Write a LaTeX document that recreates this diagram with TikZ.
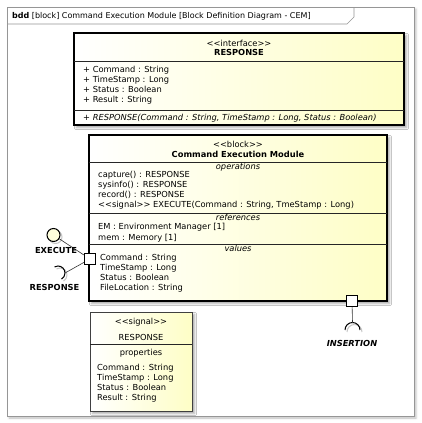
\documentclass[tikz,border=0pt]{standalone}
\usepackage{fontspec}
\setmainfont{DejaVu Sans}
\usetikzlibrary{shadows.blur}
\definecolor{cemyellow}{RGB}{254,254,198}
\definecolor{framegray}{RGB}{150,150,150}
\tikzset{
  umlbox/.style={draw=black, line width=1.6pt, rectangle, inner sep=0pt,
    left color=white, right color=cemyellow,
    blur shadow={shadow xshift=2.5pt, shadow yshift=-2.5pt, shadow blur steps=4, shadow opacity=35}},
  sigbox/.style={draw=black!75, line width=0.8pt, rectangle, inner sep=0pt,
    left color=white, right color=cemyellow,
    blur shadow={shadow xshift=2.5pt, shadow yshift=-2.5pt, shadow blur steps=4, shadow opacity=35}},
  framebox/.style={draw=framegray, line width=0.7pt, rectangle, inner sep=0pt, fill=white,
    blur shadow={shadow xshift=2pt, shadow yshift=-2pt, shadow blur steps=3, shadow opacity=25}},
  txt/.style={font=\fontsize{8.3}{10}\selectfont, inner sep=0pt, anchor=base west},
  ctxt/.style={font=\fontsize{8.3}{10}\selectfont, inner sep=0pt, anchor=base},
  lbl/.style={font=\fontsize{8.3}{10}\selectfont\bfseries, inner sep=0pt, anchor=base},
  sep/.style={draw=black!85, line width=0.8pt},
  port/.style={draw=black, line width=1.2pt, fill=white, minimum size=11pt, inner sep=0pt},
  wire/.style={draw=black!80, line width=0.6pt},
  iface/.style={draw=black, line width=1pt},
  shade/.style={draw=black!22, line width=1pt}
}
\begin{document}
\begin{tikzpicture}[x=1pt,y=-1pt]
\useasboundingbox (0,0) rectangle (421,423);
% frame
\node[framebox, minimum width=407pt, minimum height=409pt] (frame) at (210.5,211.5) {};
\draw[draw=framegray, line width=0.7pt] (7,24) -- (347,24) -- (354,17) -- (354,7);
\node[txt, font=\fontsize{8}{10}\selectfont] (title) at (12,19) {\textbf{bdd} [block] Command Execution Module [Block Definition Diagram - CEM]};

% interface RESPONSE
\node[umlbox, minimum width=330pt, minimum height=92pt] (ifbox) at (239,79) {};
\draw[sep] (74,61) -- (404,61);
\draw[sep] (74,110) -- (404,110);
\node[ctxt] (ifst) at (239,46) {<\kern0pt<interface>\kern0pt>};
\node[ctxt, font=\fontsize{8.3}{10}\selectfont\bfseries] (ifname) at (239,55.5) {RESPONSE};
\node[txt] (ifa1) at (83,72) {+ Command : String};
\node[txt] (ifa2) at (83,82) {+ TimeStamp : Long};
\node[txt] (ifa3) at (83,92) {+ Status : Boolean};
\node[txt] (ifa4) at (83,102) {+ Result : String};
\node[txt, font=\fontsize{8.3}{10}\selectfont\itshape] (ifop) at (83,120.5) {+ RESPONSE(Command : String, TimeStamp : Long, Status : Boolean)};

% block
\node[umlbox, minimum width=298pt, minimum height=166pt] (blk) at (238,218) {};
\draw[sep] (89,162) -- (387,162);
\draw[sep] (89,213) -- (387,213);
\draw[sep] (89,244) -- (387,244);
\node[ctxt] (blkst) at (238,147) {<\kern0pt<block>\kern0pt>};
\node[ctxt, font=\fontsize{8.3}{10}\selectfont\bfseries] (blkname) at (238,157.5) {Command Execution Module};
\node[ctxt, font=\fontsize{8.3}{10}\selectfont\itshape] (opsh) at (238,169) {operations};
\node[txt] (op1) at (98,177) {capture() : RESPONSE};
\node[txt] (op2) at (98,187) {sysinfo() : RESPONSE};
\node[txt] (op3) at (98,197) {record() : RESPONSE};
\node[txt] (op4) at (98,207.5) {<\kern0pt<signal>\kern0pt> EXECUTE(Command : String, TmeStamp : Long)};
\node[ctxt, font=\fontsize{8.3}{10}\selectfont\itshape] (refh) at (238,220) {references};
\node[txt] (ref1) at (98,229) {EM : Environment Manager [1]};
\node[txt] (ref2) at (98,240) {mem : Memory [1]};
\node[ctxt, font=\fontsize{8.3}{10}\selectfont\itshape] (valh) at (238,251) {values};
\node[txt] (val1) at (100,260) {Command : String};
\node[txt] (val2) at (100,270) {TimeStamp : Long};
\node[txt] (val3) at (100,280) {Status : Boolean};
\node[txt] (val4) at (100,290) {FileLocation : String};

% signal RESPONSE
\node[sigbox, minimum width=102pt, minimum height=99pt] (sig) at (141,361.5) {};
\draw[sep, line width=0.7pt] (90,344) -- (192,344);
\node[ctxt] (sigst) at (141,324) {<\kern0pt<signal>\kern0pt>};
\node[ctxt] (signame) at (141,340) {RESPONSE};
\node[ctxt] (sigph) at (141,355) {properties};
\node[txt] (sp1) at (97,370) {Command : String};
\node[txt] (sp2) at (97,380) {TimeStamp : Long};
\node[txt] (sp3) at (97,390) {Status : Boolean};
\node[txt] (sp4) at (97,400) {Result : String};

% ports
\node[port] (pl) at (90,259) {};
\node[port] (pb) at (352,301) {};

% provided interface EXECUTE
\draw[shade] (55.5,237) circle[radius=6.5pt];
\node[circle, draw=black, line width=1pt, fill=cemyellow!60, minimum size=13pt, inner sep=0pt] (exec) at (53.5,235) {};
\draw[wire] (exec) -- (pl);
\node[lbl] (execl) at (56,253) {EXECUTE};

% required interface RESPONSE
\coordinate (rq) at (65,273);
\draw[shade] (67,275) arc[start angle=0, end angle=120, radius=7pt];
\draw[shade] (67,275) arc[start angle=0, end angle=-60, radius=7pt];
\draw[iface] (rq) arc[start angle=0, end angle=120, radius=7pt];
\draw[iface] (rq) arc[start angle=0, end angle=-60, radius=7pt];
\draw[wire] (rq) -- (pl);
\node[lbl] (respl) at (54.5,290.5) {RESPONSE};

% required interface INSERTION
\coordinate (ins) at (352.5,322.5);
\draw[shade] (354.5,324.5) arc[start angle=90, end angle=0, radius=7.5pt];
\draw[shade] (354.5,324.5) arc[start angle=90, end angle=180, radius=7.5pt];
\draw[iface] (ins) arc[start angle=90, end angle=0, radius=7.5pt];
\draw[iface] (ins) arc[start angle=90, end angle=180, radius=7.5pt];
\draw[wire] (pb) -- (ins);
\node[lbl, font=\fontsize{8.3}{10}\selectfont\bfseries\itshape] (insl) at (352,346.5) {INSERTION};
\end{tikzpicture}
\end{document}
